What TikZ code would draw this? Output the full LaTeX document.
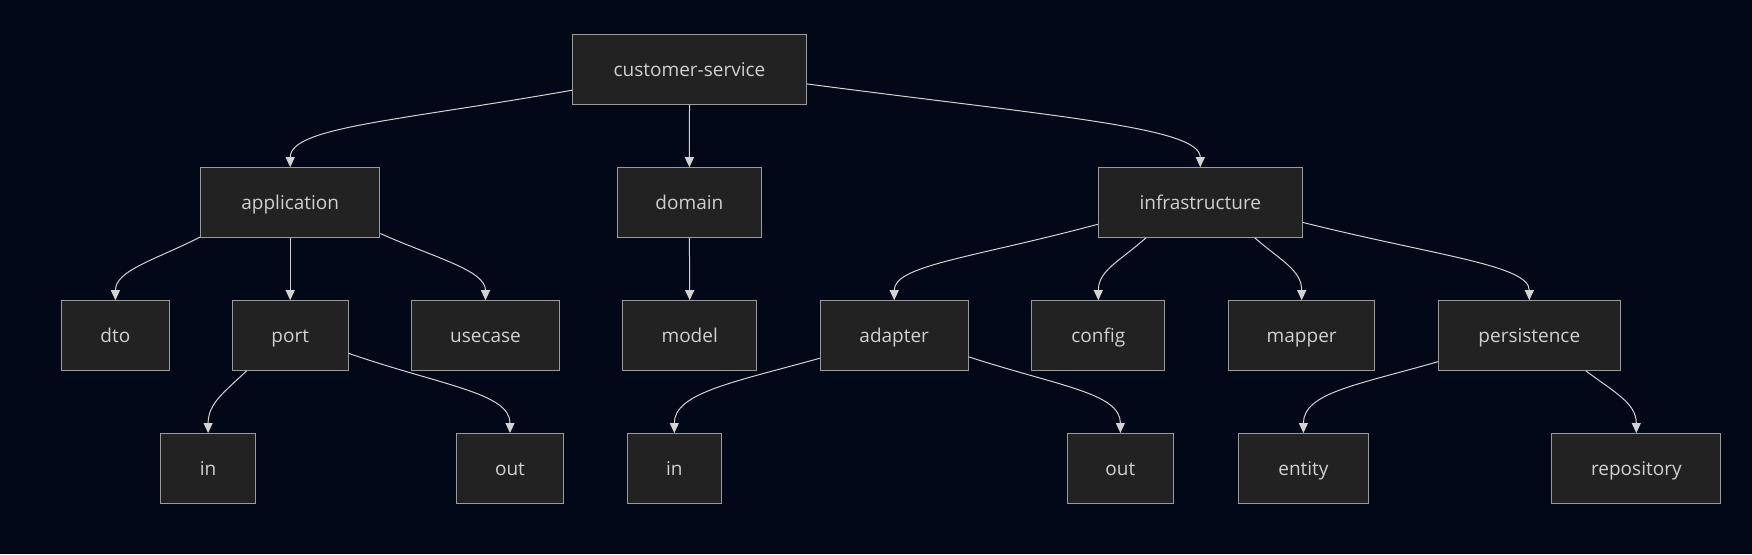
\documentclass[tikz,border=0pt]{standalone}
\usepackage{fontspec}
\setmainfont{Open Sans}
\usetikzlibrary{arrows.meta}
\definecolor{bg}{HTML}{020817}
\definecolor{boxfill}{HTML}{212221}
\definecolor{boxline}{HTML}{9A9A9A}
\definecolor{boxtext}{HTML}{D0D0D0}
\definecolor{edgeline}{HTML}{D3D3D3}
\begin{document}
\begin{tikzpicture}[x=1pt,y=-1pt,
    pkg/.style={rectangle,draw=boxline,line width=1pt,fill=boxfill,text=boxtext,
      minimum height=69.6pt,inner sep=0pt,text height=17pt,text depth=2.4pt,
      font=\fontsize{19}{23}\selectfont},
    dep/.style={draw=edgeline,line width=1pt,-{Triangle[length=10pt,width=9pt]},in=90}]
  \fill[bg] (0,0) rectangle (1752,554);
  \useasboundingbox (0,0) rectangle (1752,554);
  \node[pkg,minimum width=233.5pt] (service) at (689.5,69.5) {customer-service};
  \node[pkg,minimum width=179.3pt] (application) at (290.2,202.5) {application};
  \node[pkg,minimum width=144.2pt] (domain) at (689.4,202.5) {domain};
  \node[pkg,minimum width=204pt] (infrastructure) at (1200.3,202.5) {infrastructure};
  \node[pkg,minimum width=107.8pt] (dto) at (115.4,335.5) {dto};
  \node[pkg,minimum width=115.6pt] (port) at (290.2,335.5) {port};
  \node[pkg,minimum width=147.5pt] (usecase) at (485.5,335.5) {usecase};
  \node[pkg,minimum width=133.5pt] (model) at (689.7,335.5) {model};
  \node[pkg,minimum width=148pt] (adapter) at (894.2,335.5) {adapter};
  \node[pkg,minimum width=133pt] (config) at (1098.3,335.5) {config};
  \node[pkg,minimum width=146.4pt] (mapper) at (1301.7,335.5) {mapper};
  \node[pkg,minimum width=181.5pt] (persistence) at (1529.3,335.5) {persistence};
  \node[pkg,minimum width=94.4pt] (port-in) at (208.1,468.3) {in};
  \node[pkg,minimum width=107.3pt] (port-out) at (510,468.3) {out};
  \node[pkg,minimum width=93.8pt] (adapter-in) at (674.3,468.3) {in};
  \node[pkg,minimum width=106.7pt] (adapter-out) at (1120.4,468.3) {out};
  \node[pkg,minimum width=130.7pt] (entity) at (1303.4,468.3) {entity};
  \node[pkg,minimum width=168.7pt] (repository) at (1636.3,468.3) {repository};
  \draw[dep] (service.190) to[out=190,out distance=180pt,in distance=40pt] (application.north);
  \draw[dep] (service.south) -- (domain.north);
  \draw[dep] (service.-7.6) to[out=-7.5,out distance=250pt,in distance=40pt] (infrastructure.north);
  \draw[dep] (application.201) to[out=207,out distance=50pt,in distance=30pt] (dto.north);
  \draw[dep] (application.south) -- (port.north);
  \draw[dep] (application.-19) to[out=-24,out distance=60pt,in distance=30pt] (usecase.north);
  \draw[dep] (domain.south) -- (model.north);
  \draw[dep] (infrastructure.192) to[out=195,out distance=130pt,in distance=35pt] (adapter.north);
  \draw[dep] (infrastructure.213) to[out=222,out distance=35pt,in distance=30pt] (config.north);
  \draw[dep] (infrastructure.-33) to[out=-41,out distance=35pt,in distance=30pt] (mapper.north);
  \draw[dep] (infrastructure.-11) to[out=-14,out distance=140pt,in distance=35pt] (persistence.north);
  \draw[dep] (port.219) to[out=224,out distance=30pt,in distance=30pt] (port-in.north);
  \draw[dep] (port.-17) to[out=-19,out distance=100pt,in distance=40pt] (port-out.north);
  \draw[dep] (adapter.197) to[out=195.5,out distance=90pt,in distance=40pt] (adapter-in.north);
  \draw[dep] (adapter.-16) to[out=-18,out distance=95pt,in distance=40pt] (adapter-out.north);
  \draw[dep] (persistence.196) to[out=196,out distance=85pt,in distance=40pt] (entity.north);
  \draw[dep] (persistence.-32) to[out=-37,out distance=35pt,in distance=30pt] (repository.north);
\end{tikzpicture}
\end{document}
